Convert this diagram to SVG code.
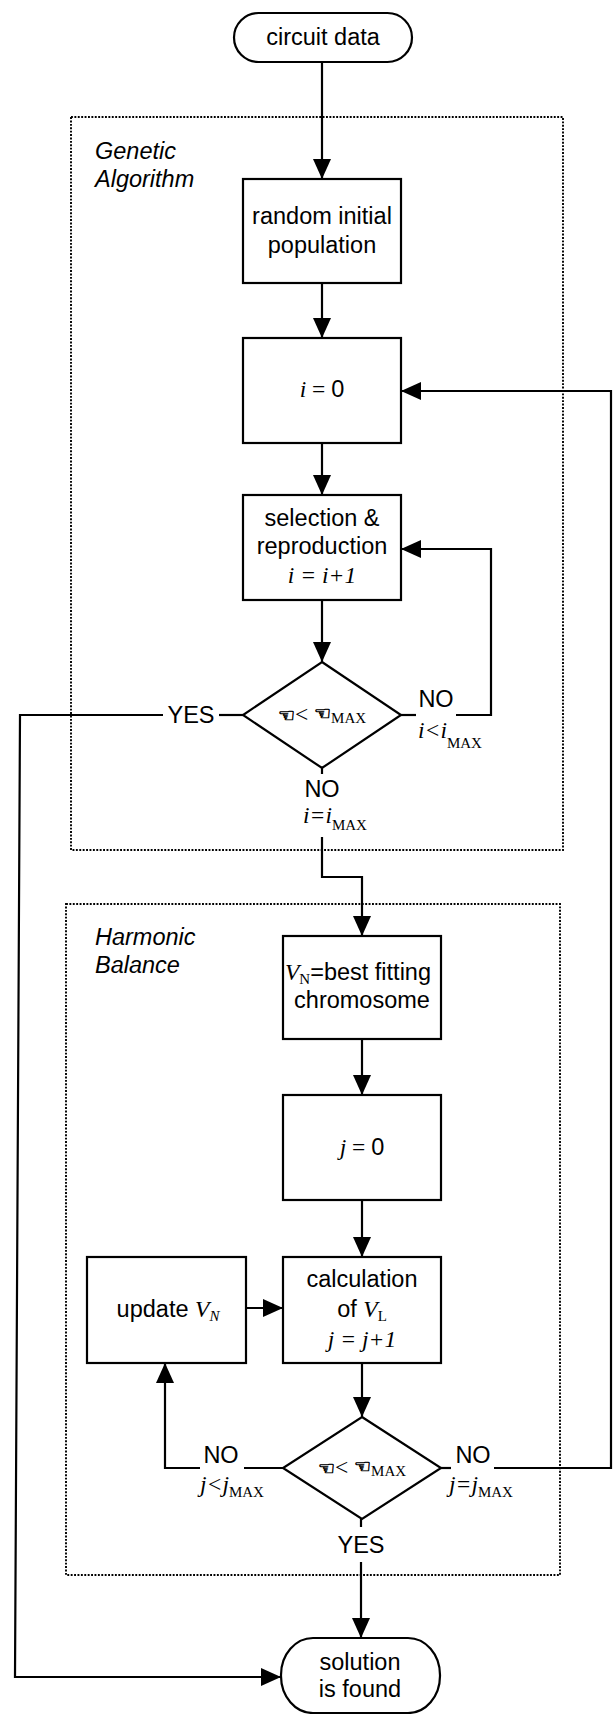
<svg xmlns="http://www.w3.org/2000/svg" width="615" height="1714" viewBox="0 0 615 1714">
<defs>
<style>
.box{fill:#fff;stroke:#000;stroke-width:2.2}
.frame{fill:none;stroke:#000;stroke-width:1.9;stroke-dasharray:1.9 1.5}
.ln{fill:none;stroke:#000;stroke-width:2.2}
.t{font-family:"Liberation Sans",Arial,sans-serif;font-size:23.5px;fill:#000}
.s{font-family:"Liberation Serif","Times New Roman",serif}
.it{font-style:italic}
.sub{font-family:"Liberation Serif","Times New Roman",serif;font-size:15px}
.h{font-family:"DejaVu Sans",sans-serif;font-size:19px;stroke:#000;stroke-width:0.7}
</style>
<marker id="ah" markerUnits="userSpaceOnUse" markerWidth="20" markerHeight="18" refX="20" refY="9" orient="auto">
<path d="M0,0 L20,9 L0,18 Z" fill="#000"/>
</marker>
</defs>
<rect width="615" height="1714" fill="#fff"/>

<g id="frame-ga">
<rect class="frame" x="71" y="117" width="492" height="733"/>
<text class="t it" x="95" y="159">Genetic</text>
<text class="t it" x="95" y="187">Algorithm</text>
</g>
<g id="frame-hb">
<rect class="frame" x="66" y="904" width="494" height="671"/>
<text class="t it" x="95" y="945">Harmonic</text>
<text class="t it" x="95" y="973">Balance</text>
</g>

<g id="connectors">
<path class="ln" d="M322,62 V179" marker-end="url(#ah)"/>
<path class="ln" d="M322,283 V338" marker-end="url(#ah)"/>
<path class="ln" d="M322,443 V495" marker-end="url(#ah)"/>
<path class="ln" d="M322,600 V662" marker-end="url(#ah)"/>
<path class="ln" d="M401,715 H416"/>
<path class="ln" d="M456,715 H491 V549 H401" marker-end="url(#ah)"/>
<path class="ln" d="M243,715 H219"/>
<path class="ln" d="M163,715 H20 L15,1677 H281" marker-end="url(#ah)"/>
<path class="ln" d="M322,768 V774"/>
<path class="ln" d="M322,837 V877 H362 V936" marker-end="url(#ah)"/>
<path class="ln" d="M362,1039 V1095" marker-end="url(#ah)"/>
<path class="ln" d="M362,1200 V1257" marker-end="url(#ah)"/>
<path class="ln" d="M246,1308 H283" marker-end="url(#ah)"/>
<path class="ln" d="M362,1363 V1417" marker-end="url(#ah)"/>
<path class="ln" d="M283,1468 H244"/>
<path class="ln" d="M200,1468 H165 V1363" marker-end="url(#ah)"/>
<path class="ln" d="M441,1468 H451"/>
<path class="ln" d="M494,1468 H611 V391 H401" marker-end="url(#ah)"/>
<path class="ln" d="M361,1519 V1527"/>
<path class="ln" d="M361,1562 V1638" marker-end="url(#ah)"/>
</g>

<g id="circuit-data">
<rect class="box" x="234" y="13" width="178" height="49" rx="24.5" ry="24.5"/>
<text class="t" x="323" y="45" text-anchor="middle">circuit data</text>
</g>
<g id="random-population">
<rect class="box" x="243" y="179" width="158" height="104"/>
<text class="t" x="322" y="224" text-anchor="middle">random initial</text>
<text class="t" x="322" y="253" text-anchor="middle">population</text>
</g>
<g id="i-zero">
<rect class="box" x="243" y="338" width="158" height="105"/>
<text class="t" x="322" y="397" text-anchor="middle"><tspan class="s it">i</tspan><tspan class="s"> = </tspan>0</text>
</g>
<g id="selection">
<rect class="box" x="243" y="495" width="158" height="105"/>
<text class="t" x="322" y="526" text-anchor="middle">selection &amp;</text>
<text class="t" x="322" y="554" text-anchor="middle">reproduction</text>
<text class="t s it" x="322" y="583" text-anchor="middle">i = i+1</text>
</g>
<g id="decision-ga">
<polygon class="box" points="322,662 401,715 322,768 243,715"/>
<text class="t" x="322" y="722" text-anchor="middle"><tspan class="h">☜</tspan><tspan class="s">&lt; </tspan><tspan class="h" dy="-2">☜</tspan><tspan class="sub" dy="3">MAX</tspan></text>
</g>
<g id="vn-best">
<rect class="box" x="283" y="936" width="158" height="103"/>
<text class="t" x="358" y="980" text-anchor="middle"><tspan class="s it">V</tspan><tspan class="sub" font-size="14" dy="4">N</tspan><tspan dy="-4">=best fitting</tspan></text>
<text class="t" x="362" y="1008" text-anchor="middle">chromosome</text>
</g>
<g id="j-zero">
<rect class="box" x="283" y="1095" width="158" height="105"/>
<text class="t" x="362" y="1155" text-anchor="middle"><tspan class="s it">j</tspan><tspan class="s"> = </tspan>0</text>
</g>
<g id="update-vn">
<rect class="box" x="87" y="1257" width="159" height="106"/>
<text class="t" x="168" y="1317" text-anchor="middle">update <tspan class="s it">V</tspan><tspan class="sub it" font-size="14" dy="4">N</tspan></text>
</g>
<g id="calculation">
<rect class="box" x="283" y="1257" width="158" height="106"/>
<text class="t" x="362" y="1287" text-anchor="middle">calculation</text>
<text class="t" x="362" y="1317" text-anchor="middle">of <tspan class="s it">V</tspan><tspan class="sub" font-size="14" dy="4">L</tspan></text>
<text class="t s it" x="362" y="1347" text-anchor="middle">j = j+1</text>
</g>
<g id="decision-hb">
<polygon class="box" points="362,1417 441,1468 362,1519 283,1468"/>
<text class="t" x="362" y="1475" text-anchor="middle"><tspan class="h">☜</tspan><tspan class="s">&lt; </tspan><tspan class="h" dy="-2">☜</tspan><tspan class="sub" dy="3">MAX</tspan></text>
</g>
<g id="solution">
<rect class="box" x="281" y="1638" width="159" height="75" rx="32" ry="37"/>
<text class="t" x="360" y="1670" text-anchor="middle">solution</text>
<text class="t" x="360" y="1697" text-anchor="middle">is found</text>
</g>

<g id="labels">
<text class="t" x="191" y="723" text-anchor="middle">YES</text>
<text class="t" x="436" y="707" text-anchor="middle">NO</text>
<text class="t" x="418" y="738"><tspan class="s it">i&lt;i</tspan><tspan class="sub" dy="10">MAX</tspan></text>
<text class="t" x="322" y="797" text-anchor="middle">NO</text>
<text class="t" x="303" y="823"><tspan class="s it">i=i</tspan><tspan class="sub" dy="7">MAX</tspan></text>
<text class="t" x="221" y="1463" text-anchor="middle">NO</text>
<text class="t" x="200" y="1492"><tspan class="s it">j&lt;j</tspan><tspan class="sub" dy="5">MAX</tspan></text>
<text class="t" x="473" y="1463" text-anchor="middle">NO</text>
<text class="t" x="449" y="1492"><tspan class="s it">j=j</tspan><tspan class="sub" dy="5">MAX</tspan></text>
<text class="t" x="361" y="1553" text-anchor="middle">YES</text>
</g>
</svg>
